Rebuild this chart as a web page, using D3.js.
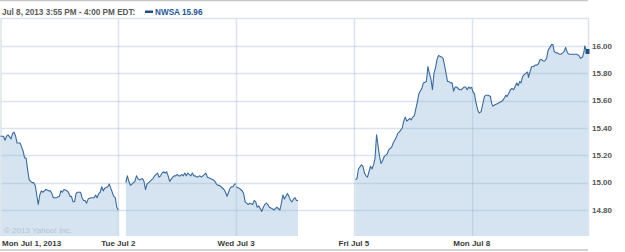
<!DOCTYPE html>
<html>
<head>
<meta charset="utf-8">
<script src="https://cdn.jsdelivr.net/npm/d3@7"></script>
<style>
body { margin: 0; background: #fff; }
svg { display: block; }
</style>
</head>
<body>
<svg></svg>
<script>
var width = 625
var height = 252

// trading days shown (Thu Jul 4 was a holiday, Wed Jul 3 a half day)
var days = ["Mon Jul 1, 2013", "Tue Jul 2", "Wed Jul 3", "Fri Jul 5", "Mon Jul 8"]

// [time, price]
var jul1 = [["9:30",15.34],["9:40",15.34],["9:45",15.31],["9:50",15.34],["9:55",15.35],["10:05",15.32],["10:10",15.36],["10:15",15.37],["10:20",15.34],["10:25",15.29],["10:35",15.29],["10:40",15.26],["10:45",15.23],["10:50",15.18],["10:55",15.18],["11:00",15.09],["11:05",15.02],["11:10",15.01],["11:15",15.00],["11:20",15.00],["11:25",14.98],["11:30",14.91],["11:35",14.84],["11:40",14.91],["11:45",14.94],["11:50",14.93],["11:55",14.94],["12:00",14.95],["12:10",14.94],["12:15",14.94],["12:20",14.92],["12:25",14.89],["12:35",14.89],["12:45",14.90],["12:50",14.94],["12:55",14.93],["13:00",14.95],["13:10",14.94],["13:15",14.93],["13:20",14.90],["13:25",14.90],["13:30",14.86],["13:35",14.86],["13:40",14.92],["13:45",14.93],["13:55",14.93],["14:00",14.89],["14:05",14.87],["14:10",14.87],["14:15",14.85],["14:20",14.88],["14:30",14.89],["14:40",14.89],["14:45",14.91],["14:50",14.89],["14:55",14.92],["15:00",14.93],["15:05",14.97],["15:10",14.94],["15:15",14.96],["15:25",14.97],["15:30",14.99],["15:35",14.96],["15:40",14.93],["15:45",14.90],["15:50",14.89],["15:55",14.82],["16:00",14.80]]
var jul2 = [["9:55",15.00],["10:00",15.05],["10:05",15.01],["10:10",14.98],["10:15",14.99],["10:20",15.00],["10:25",15.01],["10:30",15.05],["10:35",15.03],["10:40",15.02],["10:50",15.03],["10:55",15.01],["11:00",14.95],["11:05",14.99],["11:10",15.00],["11:15",15.01],["11:20",15.02],["11:25",15.03],["11:30",15.05],["11:40",15.07],["11:45",15.04],["11:50",15.05],["11:55",15.07],["12:00",15.08],["12:05",15.07],["12:10",15.08],["12:15",15.05],["12:20",15.01],["12:30",15.04],["12:35",15.05],["12:40",15.05],["12:45",15.06],["12:50",15.05],["12:55",15.05],["13:00",15.06],["13:05",15.05],["13:10",15.07],["13:15",15.05],["13:20",15.07],["13:30",15.05],["13:35",15.07],["13:40",15.05],["13:45",15.05],["13:50",15.04],["14:00",15.05],["14:05",15.04],["14:10",15.05],["14:20",15.07],["14:25",15.04],["14:35",15.03],["14:45",15.02],["14:50",15.01],["14:55",14.99],["15:00",14.98],["15:05",14.98],["15:10",14.97],["15:20",14.95],["15:25",14.93],["15:30",14.90],["15:35",14.93],["15:40",14.96],["15:45",14.97],["15:50",14.97],["15:55",14.99],["16:00",14.99]]
var jul3 = [["9:30",14.97],["9:40",14.96],["9:45",14.95],["9:50",14.94],["9:55",14.92],["10:00",14.86],["10:05",14.85],["10:10",14.84],["10:15",14.85],["10:25",14.84],["10:30",14.87],["10:35",14.86],["10:40",14.82],["10:45",14.83],["10:50",14.81],["10:55",14.79],["11:00",14.82],["11:05",14.84],["11:10",14.85],["11:15",14.84],["11:20",14.82],["11:30",14.81],["11:35",14.80],["11:40",14.81],["11:45",14.82],["11:55",14.80],["12:00",14.85],["12:05",14.91],["12:10",14.88],["12:20",14.92],["12:25",14.90],["12:30",14.87],["12:35",14.86],["12:40",14.88],["12:45",14.89],["12:50",14.87],["12:55",14.87]]
var jul5 = [["9:35",15.02],["9:40",15.03],["9:45",15.10],["9:55",15.13],["10:00",15.12],["10:05",15.07],["10:10",15.05],["10:15",15.04],["10:20",15.08],["10:25",15.12],["10:30",15.10],["10:35",15.13],["10:40",15.18],["10:45",15.35],["10:50",15.27],["10:55",15.19],["11:00",15.14],["11:05",15.16],["11:10",15.19],["11:15",15.20],["11:20",15.21],["11:25",15.24],["11:30",15.25],["11:35",15.26],["11:40",15.29],["11:45",15.31],["11:50",15.33],["11:55",15.36],["12:00",15.37],["12:10",15.40],["12:15",15.45],["12:20",15.48],["12:25",15.45],["12:30",15.46],["12:35",15.47],["12:40",15.46],["12:45",15.48],["12:50",15.49],["12:55",15.54],["13:00",15.59],["13:05",15.65],["13:10",15.67],["13:15",15.69],["13:20",15.73],["13:30",15.74],["13:35",15.85],["13:40",15.80],["13:45",15.76],["13:50",15.68],["13:55",15.80],["14:00",15.84],["14:05",15.90],["14:10",15.93],["14:20",15.92],["14:25",15.91],["14:30",15.86],["14:35",15.80],["14:40",15.74],["14:45",15.74],["14:50",15.73],["14:55",15.73],["15:00",15.67],["15:05",15.70],["15:10",15.70],["15:20",15.68],["15:25",15.68],["15:30",15.69],["15:35",15.70],["15:40",15.70],["15:45",15.68],["15:50",15.70],["15:55",15.69],["16:00",15.70]]
var jul8 = [["9:30",15.70],["9:33",15.67],["9:39",15.65],["9:44",15.59],["9:50",15.53],["9:55",15.51],["10:01",15.52],["10:06",15.57],["10:12",15.63],["10:17",15.64],["10:25",15.64],["10:32",15.63],["10:36",15.58],["10:40",15.56],["10:47",15.57],["10:56",15.58],["11:05",15.59],["11:12",15.60],["11:18",15.62],["11:23",15.64],["11:27",15.63],["11:32",15.65],["11:38",15.68],["11:43",15.69],["11:49",15.68],["11:53",15.70],["11:59",15.73],["12:04",15.71],["12:09",15.74],["12:13",15.73],["12:19",15.78],["12:24",15.79],["12:29",15.80],["12:35",15.81],["12:38",15.77],["12:44",15.82],["12:49",15.85],["12:55",15.85],["13:00",15.86],["13:06",15.86],["13:11",15.87],["13:16",15.90],["13:21",15.90],["13:27",15.89],["13:32",15.89],["13:38",15.91],["13:43",15.97],["13:49",15.99],["13:54",16.01],["13:59",16.01],["14:03",15.96],["14:09",15.95],["14:14",15.95],["14:20",15.94],["14:25",15.94],["14:31",15.95],["14:36",15.96],["14:41",15.99],["14:47",15.95],["14:52",15.94],["15:00",15.94],["15:09",15.94],["15:17",15.94],["15:25",15.93],["15:30",15.91],["15:37",15.92],["15:42",15.96],["15:44",16.00],["15:50",15.97],["15:55",15.96]]

var yTicks = [14.80, 15.00, 15.20, 15.40, 15.60, 15.80, 16.00]
var symbol = "NWSA"
var lastPrice = 15.96
var stamp = "Jul 8, 2013 3:55 PM - 4:00 PM EDT:"

var series = [jul1, jul2, jul3, jul5, jul8]

var plotLeft = 0.5, plotRight = 588, plotTop = 18, plotBottom = 236
var dayLen = 390

function minutes(t) {
  var p = t.split(":")
  return (+p[0] - 9) * 60 + (+p[1]) - 30
}

var pts = series.map((s, i) => s.map(d => ({ m: i * dayLen + minutes(d[0]), v: d[1] })))

x = d3.scaleLinear()
    .domain([0, 4 * dayLen + minutes("15:55")])
    .range([plotLeft, plotRight])

y = d3.scaleLinear()
    .domain([14.8, 16.0])
    .range([210, 46])

const svg = d3.select("svg")
  .attr("width", width)
  .attr("height", height)
  .style("font-family", "'Liberation Sans', Arial, sans-serif")

// outer frame lines
svg.append("line").attr("x1", 0).attr("x2", plotRight).attr("y1", 0.5).attr("y2", 0.5)
  .attr("stroke", "#c8c8c8").attr("stroke-width", 1.5)
svg.append("line").attr("x1", 0).attr("x2", plotRight).attr("y1", 250).attr("y2", 250)
  .attr("stroke", "#d4d4d4").attr("stroke-width", 2)

const area = d3.area()
  .x(d => x(d.m))
  .y0(plotBottom)
  .y1(d => y(d.v))

const line = d3.line()
  .x(d => x(d.m))
  .y(d => y(d.v))

svg.append("g").selectAll("path")
  .data(pts)
  .join("path")
  .attr("d", area)
  .attr("fill", "#d5e4f0")

// copyright
svg.append("text")
  .attr("x", 4).attr("y", 232.5)
  .attr("font-size", 8)
  .attr("fill", "#b3c2d2")
  .text("\u00a9 2013 Yahoo! Inc.")

// grid
const grid = svg.append("g")
  .attr("stroke", "rgba(150,178,205,0.35)")

grid.selectAll("line.h")
  .data(yTicks)
  .join("line")
  .attr("class", "h")
  .attr("x1", plotLeft).attr("x2", plotRight)
  .attr("y1", d => Math.round(y(d)) + 0.5)
  .attr("y2", d => Math.round(y(d)) + 0.5)
  .attr("stroke-width", 1.5)

grid.selectAll("line.v")
  .data(d3.range(1, days.length))
  .join("line")
  .attr("class", "v")
  .attr("x1", d => Math.round(x(d * dayLen)) + 0.5)
  .attr("x2", d => Math.round(x(d * dayLen)) + 0.5)
  .attr("y1", plotTop).attr("y2", plotBottom)
  .attr("stroke-width", 1.5)

// plot border
svg.append("path")
  .attr("d", `M${plotLeft + 0.5},${plotBottom}V${plotTop + 0.5}H${plotRight + 0.5}V${plotBottom}`)
  .attr("fill", "none")
  .attr("stroke", "#dbe3eb")
  .attr("stroke-width", 1.5)

svg.append("g").selectAll("path")
  .data(pts)
  .join("path")
  .attr("d", line)
  .attr("fill", "none")
  .attr("stroke", "#3b6a9b")
  .attr("stroke-width", 1.1)
  .attr("stroke-linejoin", "round")

// last point marker
var lastPt = pts[pts.length - 1][pts[pts.length - 1].length - 1]
svg.append("rect")
  .attr("x", x(lastPt.m) - 2.5).attr("y", y(lastPt.v) - 2.5)
  .attr("width", 4).attr("height", 5)
  .attr("fill", "#1d4f87")

// y axis labels
svg.append("g").selectAll("text")
  .data(yTicks)
  .join("text")
  .attr("x", 592)
  .attr("y", d => y(d) + 2.5)
  .attr("font-size", 8)
  .attr("font-weight", "bold")
  .attr("fill", "#555")
  .text(d => d3.format(".2f")(d))

// x axis labels
svg.append("g").selectAll("text")
  .data(days)
  .join("text")
  .attr("x", (d, i) => i == 0 ? 2 : x(i * dayLen))
  .attr("y", 246)
  .attr("text-anchor", (d, i) => i == 0 ? "start" : "middle")
  .attr("font-size", 8)
  .attr("font-weight", "bold")
  .attr("fill", "#3a3a3a")
  .text(d => d)

// header
svg.append("text")
  .attr("x", 2).attr("y", 14.5)
  .attr("font-size", 8.2)
  .attr("font-weight", "bold")
  .attr("fill", "#5a5a5a")
  .text(stamp)

svg.append("rect")
  .attr("x", 145).attr("y", 10.5)
  .attr("width", 8).attr("height", 2.5)
  .attr("fill", "#1d4f87")

svg.append("text")
  .attr("x", 155).attr("y", 14.5)
  .attr("font-size", 8.2)
  .attr("font-weight", "bold")
  .attr("fill", "#1f5597")
  .text(symbol + " " + d3.format(".2f")(lastPrice))
</script>
</body>
</html>
